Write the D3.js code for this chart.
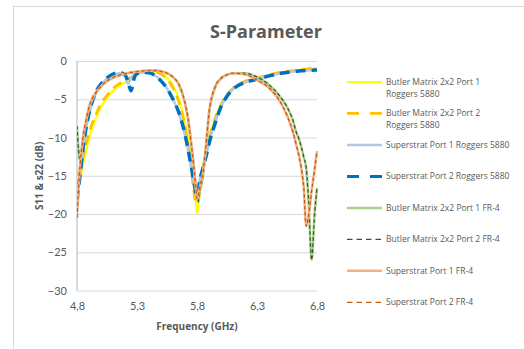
<!DOCTYPE html>
<html>
<head>
<meta charset="utf-8">
<script src="https://cdn.jsdelivr.net/npm/d3@7"></script>
<style>
  body { margin: 0; background: #fff; }
  svg { display: block; font-family: "Open Sans", Lato, sans-serif; }
</style>
</head>
<body>
<script>
// frequency grid (GHz) shared by every series
const freq = [4.80, 4.825, 4.85, 4.875, 4.90, 4.95, 5.00, 5.05, 5.10, 5.15,
  5.20, 5.225, 5.25, 5.275, 5.30, 5.35, 5.40, 5.45, 5.50, 5.55,
  5.60, 5.65, 5.70, 5.725, 5.75, 5.775, 5.79, 5.80, 5.81, 5.825,
  5.85, 5.875, 5.90, 5.95, 6.00, 6.05, 6.10, 6.20, 6.30, 6.40,
  6.50, 6.55, 6.60, 6.625, 6.65, 6.675, 6.69, 6.71, 6.73, 6.755,
  6.78, 6.80];

// S11 / S22 in dB
const bmP1Rog = [-14.5, -15.3, -13.6, -11.8, -10.2, -7.8, -6.0, -4.8, -3.9, -3.3,
  -2.8, -2.5, -2.2, -1.95, -1.75, -1.45, -1.35, -1.4, -1.65, -2.2,
  -3.2, -5.0, -8.0, -10.0, -12.6, -16.0, -18.3, -19.9, -19.0, -16.8,
  -14.0, -12.0, -10.3, -7.6, -5.8, -4.5, -3.6, -2.7, -2.3, -1.85,
  -1.5, -1.4, -1.3, -1.25, -1.2, -1.15, -1.12, -1.1, -1.05, -1.02,
  -1.0, -0.98];
const bmP2Rog = [-15.0, -14.2, -12.6, -10.9, -9.4, -7.3, -5.6, -4.5, -3.6, -3.0,
  -2.6, -2.35, -2.1, -1.85, -1.65, -1.4, -1.3, -1.4, -1.7, -2.35,
  -3.5, -5.4, -8.6, -11.0, -13.8, -17.2, -18.6, -18.0, -17.2, -15.8,
  -13.8, -11.9, -10.2, -7.5, -5.7, -4.4, -3.55, -2.65, -2.25, -1.8,
  -1.45, -1.35, -1.25, -1.2, -1.15, -1.1, -1.07, -1.05, -1.0, -0.97,
  -0.95, -0.93];
const ssP1Rog = [-18.0, -15.2, -11.8, -9.0, -7.0, -4.5, -3.1, -2.3, -1.8, -1.6,
  -1.9, -3.0, -2.2, -1.75, -1.6, -1.5, -1.55, -1.9, -2.6, -3.6,
  -5.0, -6.9, -9.7, -11.6, -13.7, -15.9, -17.2, -17.4, -16.8, -15.4,
  -13.9, -12.4, -10.7, -8.1, -6.0, -4.6, -3.7, -2.8, -2.4, -1.95,
  -1.6, -1.5, -1.4, -1.35, -1.3, -1.28, -1.26, -1.24, -1.22, -1.2,
  -1.18, -1.16];
const ssP2Rog = [-18.2, -15.0, -11.5, -8.8, -6.8, -4.3, -3.0, -2.2, -1.7, -1.5,
  -1.8, -2.7, -3.9, -2.3, -1.65, -1.5, -1.55, -1.9, -2.6, -3.6,
  -5.0, -6.8, -9.6, -11.5, -13.6, -15.9, -17.2, -17.6, -17.0, -15.5,
  -14.0, -12.5, -10.8, -8.2, -6.0, -4.6, -3.7, -2.8, -2.4, -1.95,
  -1.6, -1.5, -1.4, -1.35, -1.3, -1.28, -1.26, -1.24, -1.22, -1.2,
  -1.18, -1.16];
const bmP1Fr4 = [-8.5, -13.0, -10.2, -8.0, -6.2, -4.4, -3.35, -2.65, -2.2, -1.9,
  -1.7, -1.6, -1.5, -1.45, -1.4, -1.3, -1.25, -1.25, -1.35, -1.6,
  -2.1, -3.1, -5.5, -7.5, -10.5, -14.0, -16.5, -17.8, -18.4, -17.0,
  -15.0, -11.3, -7.0, -3.5, -2.3, -1.8, -1.6, -1.6, -2.1, -3.1,
  -4.8, -6.0, -7.8, -9.2, -10.2, -11.6, -12.6, -14.0, -18.3, -26.0,
  -20.0, -16.6];
const bmP2Fr4 = [-8.5, -13.0, -10.2, -8.0, -6.2, -4.4, -3.35, -2.65, -2.2, -1.9,
  -1.7, -1.6, -1.5, -1.45, -1.4, -1.3, -1.25, -1.25, -1.35, -1.6,
  -2.1, -3.1, -5.5, -7.5, -10.5, -14.0, -16.5, -17.8, -18.4, -17.0,
  -15.0, -11.3, -7.0, -3.5, -2.3, -1.8, -1.6, -1.6, -2.1, -3.1,
  -4.8, -6.0, -7.8, -9.2, -10.2, -11.6, -12.6, -14.0, -18.3, -26.0,
  -20.0, -16.6];
const ssP1Fr4 = [-20.5, -13.8, -10.0, -7.8, -6.0, -4.3, -3.3, -2.6, -2.15, -1.85,
  -1.65, -1.58, -1.5, -1.45, -1.4, -1.3, -1.25, -1.25, -1.35, -1.6,
  -2.1, -3.1, -5.5, -7.5, -10.5, -14.0, -16.5, -18.0, -17.6, -16.4,
  -14.6, -11.0, -6.8, -3.4, -2.25, -1.8, -1.6, -1.75, -2.5, -3.5,
  -5.5, -7.1, -9.3, -10.8, -12.4, -14.6, -16.6, -21.6, -20.2, -17.0,
  -14.2, -11.8];
const ssP2Fr4 = [-20.5, -13.8, -10.0, -7.8, -6.0, -4.3, -3.3, -2.6, -2.15, -1.85,
  -1.65, -1.58, -1.5, -1.45, -1.4, -1.3, -1.25, -1.25, -1.35, -1.6,
  -2.1, -3.1, -5.5, -7.5, -10.5, -14.0, -16.5, -18.0, -17.6, -16.4,
  -14.6, -11.0, -6.8, -3.4, -2.25, -1.8, -1.6, -1.75, -2.5, -3.5,
  -5.5, -7.1, -9.3, -10.8, -12.4, -14.6, -16.6, -21.6, -20.2, -17.0,
  -14.2, -11.8];

const seriesNames = [
  "Butler Matrix 2x2 Port 1 Roggers 5880",
  "Butler Matrix 2x2 Port 2 Roggers 5880",
  "Superstrat Port 1 Roggers 5880",
  "Superstrat Port 2 Roggers 5880",
  "Butler Matrix 2x2 Port 1 FR-4",
  "Butler Matrix 2x2 Port 2 FR-4",
  "Superstrat Port 1 FR-4",
  "Superstrat Port 2 FR-4"
];
const seriesValues = [bmP1Rog, bmP2Rog, ssP1Rog, ssP2Rog, bmP1Fr4, bmP2Fr4, ssP1Fr4, ssP2Fr4];

const xTicks = [4.8, 5.3, 5.8, 6.3, 6.8];
const yTicks = [0, -5, -10, -15, -20, -25, -30];

// line styles, in series order (dash = on the plot, keyDash = in the legend)
const styles = [
  { color: "#FFFF00", width: 2.25, dash: null, keyDash: null },
  { color: "#FFC000", width: 2.75, dash: "10,6", keyDash: "12,11" },
  { color: "#B4C7E7", width: 2.5, dash: null, keyDash: null },
  { color: "#0070C0", width: 3.5, dash: "10,6", keyDash: "12,11" },
  { color: "#A9D18E", width: 2.5, dash: null, keyDash: null },
  { color: "#385723", width: 1.25, dash: "3.5,2.5", keyDash: "5.5,4" },
  { color: "#F4B183", width: 2.5, dash: null, keyDash: null },
  { color: "#C55A11", width: 1.25, dash: "3.5,2.5", keyDash: "5.5,4" }
];

const W = 524, H = 349;
const margin = { top: 61, right: 207, bottom: 58.5, left: 77 };
const textColor = "#595959";

const svg = d3.select("body").append("svg")
  .attr("width", W)
  .attr("height", H);

// chart area border
svg.append("rect")
  .attr("x", 13.5).attr("y", 6.5)
  .attr("width", W).attr("height", H)
  .attr("fill", "#fff")
  .attr("stroke", "#D9D9D9");

const x = d3.scaleLinear().domain([4.8, 6.8]).range([margin.left, W - margin.right]);
const y = d3.scaleLinear().domain([-30, 0]).range([H - margin.bottom, margin.top]);

const commaLocale = d3.formatLocale({ decimal: ",", thousands: ".", grouping: [3], currency: ["", ""] });

// gridlines
svg.append("g")
  .attr("transform", `translate(${margin.left},0)`)
  .call(d3.axisLeft(y).tickValues(yTicks).tickSize(-(x.range()[1] - margin.left)).tickFormat(""))
  .call(g => g.select(".domain").remove())
  .call(g => g.selectAll("line").attr("stroke", "#D9D9D9").attr("stroke-width", 1));

// y axis labels
svg.append("g")
  .attr("transform", `translate(${margin.left},0)`)
  .call(d3.axisLeft(y).tickValues(yTicks).tickSize(0).tickPadding(10).tickFormat(d3.format("d")))
  .call(g => g.select(".domain").remove())
  .call(g => g.selectAll("text").attr("fill", textColor).style("font-size", "11px").style("font-family", "Lato, sans-serif"));

// vertical axis line
svg.append("line")
  .attr("x1", margin.left).attr("x2", margin.left)
  .attr("y1", y(0)).attr("y2", y(-30))
  .attr("stroke", "#A6B4C8").attr("stroke-width", 1);

// x axis labels
svg.append("g")
  .attr("transform", `translate(0,${y(-30)})`)
  .call(d3.axisBottom(x).tickValues(xTicks).tickSize(0).tickPadding(12).tickFormat(commaLocale.format(".1f")))
  .call(g => g.select(".domain").remove())
  .call(g => g.selectAll("text").attr("fill", textColor).style("font-size", "11px").style("font-family", "Lato, sans-serif"));

// series
const line = d3.line()
  .x((d, i) => x(freq[i]))
  .y(d => y(d))
  .curve(d3.curveMonotoneX);

svg.append("defs").append("clipPath").attr("id", "plotClip")
  .append("rect")
  .attr("x", margin.left).attr("y", margin.top - 5)
  .attr("width", x.range()[1] - margin.left + 2)
  .attr("height", y(-30) - margin.top + 5);

svg.append("g").attr("clip-path", "url(#plotClip)")
  .selectAll("path")
  .data(seriesValues)
  .join("path")
  .attr("d", line)
  .attr("fill", "none")
  .attr("stroke", (d, i) => styles[i].color)
  .attr("stroke-width", (d, i) => styles[i].width)
  .attr("stroke-dasharray", (d, i) => styles[i].dash)
  .attr("stroke-linejoin", "round");

// title
svg.append("text")
  .attr("x", 266).attr("y", 38)
  .attr("text-anchor", "middle")
  .attr("fill", textColor)
  .style("font-size", "18px")
  .style("font-weight", "bold")
  .text("S-Parameter");

// axis titles
svg.append("text")
  .attr("transform", `translate(43,${(y(0) + y(-30)) / 2})rotate(-90)`)
  .attr("text-anchor", "middle")
  .attr("fill", textColor)
  .style("font-size", "10px")
  .style("font-weight", "bold")
  .text("S11  & s22 (dB)");

svg.append("text")
  .attr("x", (x(4.8) + x(6.8)) / 2).attr("y", 330)
  .attr("text-anchor", "middle")
  .attr("fill", textColor)
  .style("font-size", "10px")
  .style("font-weight", "bold")
  .text("Frequency (GHz)");

// legend
const legendY = d3.scaleLinear().domain([0, 7]).range([82, 302.3]);
const legend = svg.append("g")
  .selectAll("g")
  .data(seriesNames)
  .join("g")
  .attr("transform", (d, i) => `translate(347,${legendY(i)})`);

legend.append("line")
  .attr("x1", 0).attr("x2", 35)
  .attr("stroke", (d, i) => styles[i].color)
  .attr("stroke-width", (d, i) => Math.min(styles[i].width, 3))
  .attr("stroke-dasharray", (d, i) => styles[i].keyDash);

legend.each(function (name) {
  const g = d3.select(this);
  const t = g.append("text")
    .attr("x", 39).attr("y", 3)
    .attr("fill", textColor)
    .style("font-size", "8.5px");
  // wrap long names onto a second line
  const words = name.split(" ");
  let lineWords = [];
  let tspan = t.append("tspan").attr("x", 39).attr("dy", 0);
  words.forEach(w => {
    lineWords.push(w);
    tspan.text(lineWords.join(" "));
    if (tspan.node().getComputedTextLength() > 126 && lineWords.length > 1) {
      lineWords.pop();
      tspan.text(lineWords.join(" "));
      lineWords = [w];
      tspan = t.append("tspan").attr("x", 39).attr("dy", 12).text(w);
    }
  });
});
</script>
</body>
</html>
